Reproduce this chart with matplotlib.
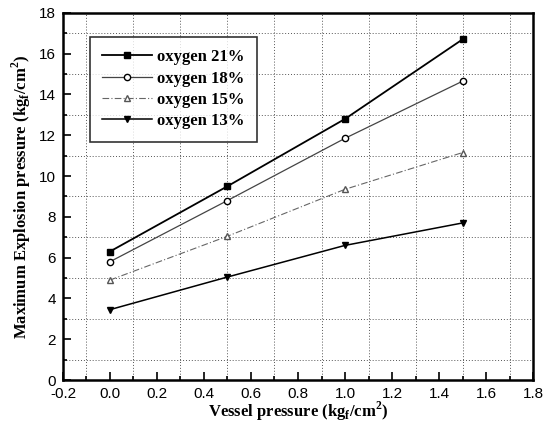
import matplotlib
matplotlib.use("Agg")
import matplotlib.pyplot as plt
from matplotlib.ticker import MultipleLocator

vessel_pressure = [0.0, 0.5, 1.0, 1.5]
oxygen_21 = [6.3, 9.5, 12.8, 16.7]
oxygen_18 = [5.8, 8.8, 11.85, 14.65]
oxygen_15 = [4.9, 7.05, 9.35, 11.15]
oxygen_13 = [3.45, 5.05, 6.6, 7.7]
labels = ["oxygen 21%", "oxygen 18%", "oxygen 15%", "oxygen 13%"]

fig = plt.figure(figsize=(5.57, 4.22), dpi=100)
ax = fig.add_axes([0.113, 0.0995, 0.844, 0.87])

ax.plot(vessel_pressure, oxygen_21, color="black", lw=1.3, marker="s", ms=5,
        mfc="black", mec="black", label=labels[0])
ax.plot(vessel_pressure, oxygen_18, color="#444444", lw=0.9, marker="o", ms=4.5,
        mfc="white", mec="black", label=labels[1])
ax.plot(vessel_pressure, oxygen_15, color="#666666", lw=0.8, ls=(0, (6, 2, 1, 2)),
        marker="^", ms=5, mfc="white", mec="#555555", label=labels[2])
ax.plot(vessel_pressure, oxygen_13, color="black", lw=1.1, marker="v", ms=5,
        mfc="black", mec="black", label=labels[3])

ax.set_xlim(-0.2, 1.8)
ax.set_ylim(0, 18)
ax.xaxis.set_major_locator(MultipleLocator(0.2))
ax.xaxis.set_minor_locator(MultipleLocator(0.1))
ax.yaxis.set_major_locator(MultipleLocator(2))
ax.yaxis.set_minor_locator(MultipleLocator(1))
ax.set_xticklabels([f"{v:.1f}" for v in ax.get_xticks()])

ax.grid(True, which="minor", color="#555555", ls=(0, (1, 2)), lw=0.7)
ax.grid(False, which="major")
ax.tick_params(which="both", direction="in", top=False, right=False,
               labelsize=11, width=1.2)
ax.tick_params(axis="x", which="major", length=6, pad=5)
ax.tick_params(axis="y", which="major", length=6, pad=5)
ax.tick_params(which="minor", length=3)
for lbl in ax.get_xticklabels() + ax.get_yticklabels():
    lbl.set_family("Liberation Sans")
for s in ax.spines.values():
    s.set_linewidth(1.8)

ax.set_xlabel("Vessel pressure (kg$_\\mathregular{f}$/cm$^\\mathregular{2}$)",
              family="Liberation Serif", fontweight="bold", fontsize=12, labelpad=-1)
ax.set_ylabel("Maximum Explosion pressure (kg$_\\mathregular{f}$/cm$^\\mathregular{2}$)",
              family="Liberation Serif", fontweight="bold", fontsize=12, labelpad=4)

leg = ax.legend(loc="upper left", bbox_to_anchor=(0.057, 0.935), frameon=True,
                fancybox=False, edgecolor="black", handlelength=3.0,
                borderaxespad=0,
                prop={"family": "Liberation Serif", "weight": "bold", "size": 12},
                borderpad=0.75, labelspacing=0.32, handletextpad=0.3)
leg.get_frame().set_linewidth(1.2)

fig.savefig("out.png", dpi=100)
